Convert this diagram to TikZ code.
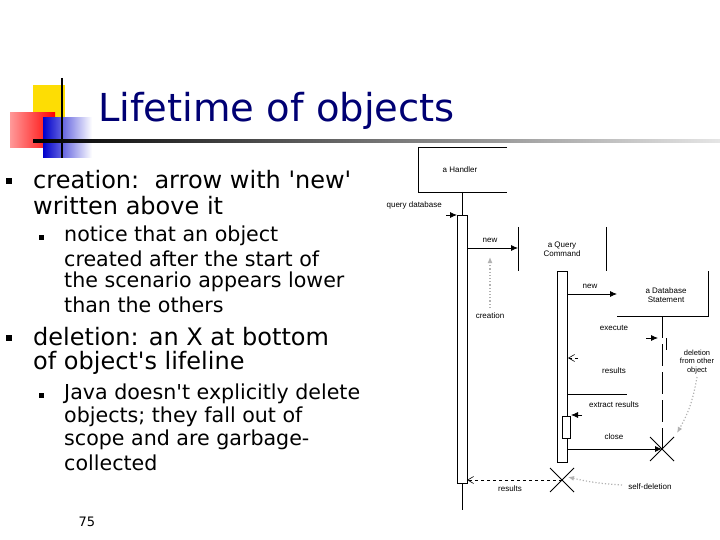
\documentclass[tikz,border=0pt]{standalone}
\usepackage{fontspec}
\setmainfont{DejaVu Sans}
\setsansfont{Liberation Sans}
\usetikzlibrary{arrows.meta}
\begin{document}
\begin{tikzpicture}[x=1pt,y=-1pt,
  t1/.style={anchor=west,font=\fontsize{24}{24}\selectfont,inner sep=0},
  t2/.style={anchor=west,font=\fontsize{20.6}{20}\selectfont,inner sep=0},
  sm/.style={font=\fontsize{8}{9}\selectfont\sffamily,inner sep=0,align=center},
  bul/.style={fill=black,minimum size=6pt,inner sep=0},
  bul2/.style={fill=black,minimum size=5pt,inner sep=0},
  msg/.style={-{Latex[length=7pt,width=6pt]},line width=0.8pt},
  ret/.style={dashed,-{Straight Barb[open,length=6pt,width=7pt]},line width=0.6pt},
  note/.style={dotted,gray!60,line width=1.2pt,-{Latex[length=6pt,width=5pt]}},
  bar/.style={draw,fill=white,line width=0.8pt}]
\useasboundingbox (0,0) rectangle (720,540);
% logo
\fill[yellow!80!orange] (33,85) rectangle (65,118);
\shade[left color=red!40!white,right color=red] (10,113) rectangle (55,148);
\shade[left color=blue!80!black,right color=white] (43,118) rectangle (92,158);
\draw[line width=1.5pt] (62,78) -- (62,158);
\shade[left color=black,right color=gray!20] (33,140) rectangle (720,142.5);
\node[anchor=west,text=blue!45!black,font=\fontsize{38.5}{40}\selectfont,inner sep=0] (title) at (98,111) {Lifetime of objects};
% text
\node[bul] (b1) at (9,181) {};
\node[t1] (l1) at (33,180) {creation:\ \ arrow with \textquotesingle new\textquotesingle};
\node[t1] (l2) at (33,206) {written above it};
\node[bul2] (b2) at (41,237) {};
\node[t2] (l3) at (64,236) {notice that an object};
\node[t2] (l4) at (64,259) {created after the start of};
\node[t2] (l5) at (64,282) {the scenario appears lower};
\node[t2] (l6) at (64,305) {than the others};
\node[bul] (b3) at (9,338) {};
\node[t1] (l7) at (33,337) {deletion: an X at bottom};
\node[t1] (l8) at (33,363) {of object\textquotesingle s lifeline};
\node[bul2] (b4) at (41,395) {};
\node[t2] (l9) at (64,394) {Java doesn\textquotesingle t explicitly delete};
\node[t2] (l10) at (64,417) {objects; they fall out of};
\node[t2] (l11) at (64,440) {scope and are garbage-};
\node[t2] (l12) at (64,463) {collected};
\node[font=\fontsize{13}{13}\selectfont] (pg) at (87,522) {75};
% diagram
\draw[line width=0.8pt] (507,147) -- (418,147) -- (418,192) -- (507,192);
\node[sm] (h) at (460,170) {a Handler};
\draw[line width=0.8pt] (462,192) -- (462,510);
\draw[bar] (457,215) rectangle (467,483);
\node[sm,anchor=east] (qd) at (442,205) {query database};
\coordinate (qs) at (446,215);
\draw[msg] (qs) -- (457,215);
% Query command
\draw[line width=0.8pt] (518,227) -- (518,271);
\draw[line width=0.8pt] (606,227) -- (606,271);
\node[sm] (qc) at (562,249) {a Query\\Command};
\draw[msg] (467,248) -- (518,248);
\node[sm] (n1) at (490,240) {new};
\draw[bar] (557,271) rectangle (567,462);
\draw[bar] (562,416) rectangle (570,438);
% DB statement
\draw[line width=0.8pt] (708,271) -- (708,316) -- (617,316);
\node[sm] (db) at (666,295) {a Database\\Statement};
\draw[msg] (567,294) -- (617,294);
\node[sm] (n2) at (590,286) {new};
\draw[line width=0.8pt,dash pattern=on 22pt off 6pt] (662,316) -- (662,450);
\draw[line width=0.8pt] (666,338) -- (666,350);
\draw[msg] (646,338) -- (658,338);
\node[sm] (ex) at (614,328) {execute};
\draw[ret] (578,358) -- (568,358);
\node[sm] (r1) at (614,371) {results};
\draw[line width=0.8pt] (567,394) -- (627,394);
\node[sm] (er) at (614,405) {extract results};
\draw[msg] (582,415) -- (571,415);
\node[sm] (cl) at (614,437) {close};
\draw[msg] (567,449) -- (662,449);
\draw[line width=0.8pt] (650,437) -- (674,461) (650,461) -- (674,437);
\draw[line width=0.8pt] (550,468) -- (574,492) (550,492) -- (574,468);
\coordinate (xq) at (562,480);
\draw[ret] (xq) -- (467,480);
\node[sm] (r2) at (510,489) {results};
% notes
\node[sm] (cr) at (490,316) {creation};
\draw[note] (490,308) -- (490,257);
\node[sm,font=\fontsize{7.5}{8.5}\selectfont\sffamily] (del) at (697,362) {deletion\\from other\\object};
\draw[note] (697,377) to[bend left=10] (677,433);
\node[sm] (sd) at (650,487) {self-deletion};
\draw[note] (622,485) to[bend left=5] (568,477);
\end{tikzpicture}
\end{document}
